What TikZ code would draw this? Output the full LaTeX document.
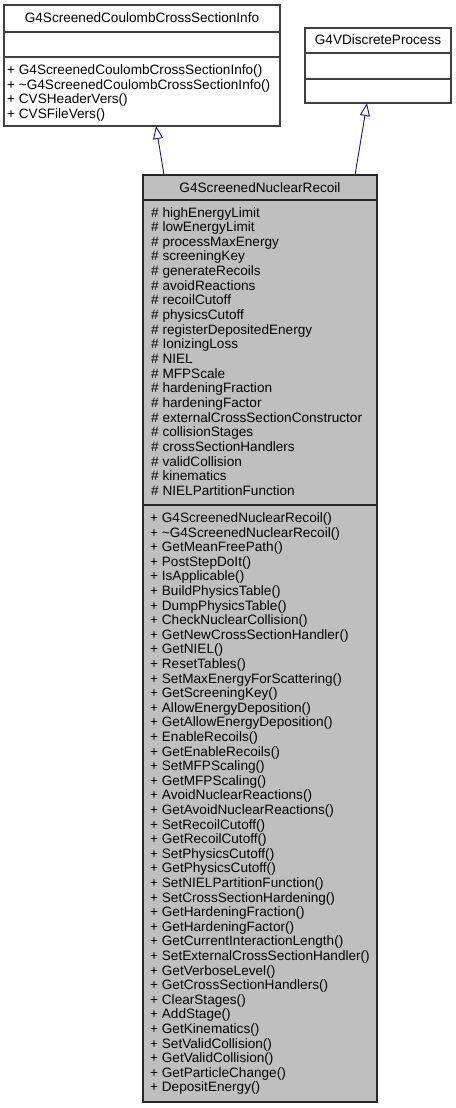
\documentclass[tikz,border=0pt]{standalone}
\usepackage{fontspec}
\setmainfont{Liberation Sans}
\usetikzlibrary{arrows.meta,calc}
\definecolor{edgeblue}{HTML}{191970}
\definecolor{boxline}{HTML}{404040}
\definecolor{mainfill}{HTML}{BFBFBF}
\begin{document}
\begin{tikzpicture}[x=1pt,y=-1pt,
  box/.style={draw=boxline, line width=1.2pt, fill=white, anchor=north west, inner sep=0pt, outer sep=0pt},
  mainbox/.style={box, fill=mainfill, draw=black!85},
  sep/.style={draw=boxline, line width=1.2pt},
  mainsep/.style={draw=black!85, line width=1.2pt},
  txt/.style={anchor=base west, inner sep=0pt, font=\fontsize{13.6}{15}\selectfont},
  title/.style={anchor=base, inner sep=0pt, font=\fontsize{13.6}{15}\selectfont},
  inherit/.style={draw=edgeblue, line width=0.9pt, -{Triangle[open, length=13pt, width=10pt, fill=white]}}]
\useasboundingbox (0,0) rectangle (455,1108);

% base class 1
\node[box, minimum width=276pt, minimum height=121pt] (base1) at (4,5) {};
\draw[sep] (base1.west |- 0,32) -- (base1.east |- 0,32);
\draw[sep] (base1.west |- 0,57) -- (base1.east |- 0,57);
\node[title] (t1) at (142,23) {G4ScreenedCoulombCrossSectionInfo};
\foreach \s [count=\i] in {G4ScreenedCoulombCrossSectionInfo(),\textasciitilde G4ScreenedCoulombCrossSectionInfo(),CVSHeaderVers(),CVSFileVers()}
  \node[txt] (b1m\i) at (7,{74.5+14.5*(\i-1)}) {+ \s};

% base class 2
\node[box, minimum width=146pt, minimum height=75pt] (base2) at (305,28) {};
\draw[sep] (base2.west |- 0,53) -- (base2.east |- 0,53);
\draw[sep] (base2.west |- 0,79) -- (base2.east |- 0,79);
\node[title] (t2) at (378,45) {G4VDiscreteProcess};

% main class
\node[mainbox, minimum width=234pt, minimum height=927pt] (main) at (143,175) {};
\draw[mainsep] (main.west |- 0,200) -- (main.east |- 0,200);
\draw[mainsep] (main.west |- 0,505) -- (main.east |- 0,505);
\node[title] (tm) at (260,192) {G4ScreenedNuclearRecoil};
\foreach \s [count=\i] in {highEnergyLimit,lowEnergyLimit,processMaxEnergy,screeningKey,generateRecoils,avoidReactions,recoilCutoff,physicsCutoff,registerDepositedEnergy,IonizingLoss,NIEL,MFPScale,hardeningFraction,hardeningFactor,externalCrossSectionConstructor,collisionStages,crossSectionHandlers,validCollision,kinematics,NIELPartitionFunction}
  \node[txt] (a\i) at (151,{217+14.66*(\i-1)}) {\# \s};
\foreach \s [count=\i] in {G4ScreenedNuclearRecoil(),\textasciitilde G4ScreenedNuclearRecoil(),GetMeanFreePath(),PostStepDoIt(),IsApplicable(),BuildPhysicsTable(),DumpPhysicsTable(),CheckNuclearCollision(),GetNewCrossSectionHandler(),GetNIEL(),ResetTables(),SetMaxEnergyForScattering(),GetScreeningKey(),AllowEnergyDeposition(),GetAllowEnergyDeposition(),EnableRecoils(),GetEnableRecoils(),SetMFPScaling(),GetMFPScaling(),AvoidNuclearReactions(),GetAvoidNuclearReactions(),SetRecoilCutoff(),GetRecoilCutoff(),SetPhysicsCutoff(),GetPhysicsCutoff(),SetNIELPartitionFunction(),SetCrossSectionHardening(),GetHardeningFraction(),GetHardeningFactor(),GetCurrentInteractionLength(),SetExternalCrossSectionHandler(),GetVerboseLevel(),GetCrossSectionHandlers(),ClearStages(),AddStage(),GetKinematics(),SetValidCollision(),GetValidCollision(),GetParticleChange(),DepositEnergy()}
  \node[txt] (m\i) at (150,{522.5+14.6*(\i-1)}) {+ \s};

% inheritance arrows
\draw[inherit] ($(main.north west)+(21,0)$) -- ($(base1.south west)+(152,0)$);
\draw[inherit] ($(main.north west)+(212,0)$) -- ($(base2.south west)+(62,0)$);
\end{tikzpicture}
\end{document}
